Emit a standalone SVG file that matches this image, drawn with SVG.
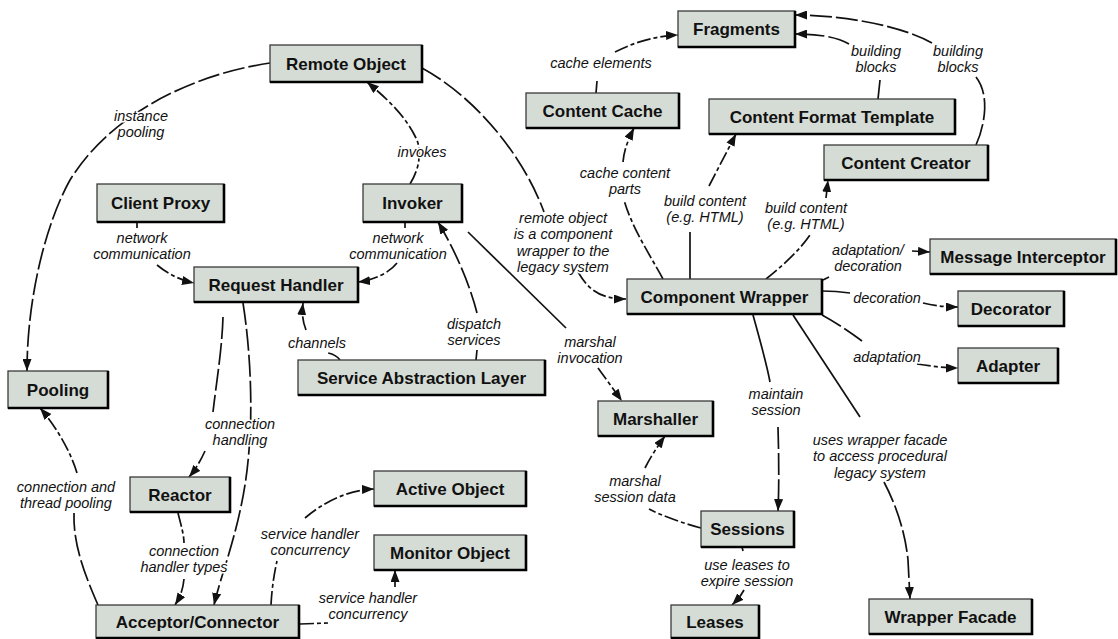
<svg xmlns="http://www.w3.org/2000/svg" width="1118" height="639" viewBox="0 0 1118 639">
  <style>
    .box { fill: #d5dcd5; stroke: #3a3a3a; stroke-width: 1.3; }
    .shade { fill: none; stroke: #000; stroke-width: 2.6; }
    .t { font-family: "Liberation Sans", Arial, sans-serif; font-weight: bold; font-size: 17px; text-anchor: middle; fill: #111; }
    .e { font-family: "Liberation Sans", Arial, sans-serif; font-style: italic; font-size: 14.5px; text-anchor: middle; fill: #111;
         stroke: #fff; stroke-width: 3; stroke-linejoin: round; paint-order: stroke fill; }
    .c { fill: none; stroke: #111; stroke-width: 1.7; }
    .d { stroke-dasharray: 14 3 4 3; }
    .ld { stroke-dasharray: 22 4; }
    .a { marker-end: url(#arrow); }
  </style>
  <defs>
    <marker id="arrow" markerUnits="userSpaceOnUse" markerWidth="12" markerHeight="9" refX="12" refY="4.5" orient="auto">
      <path d="M0,0 L12,4.5 L0,9 Z" fill="#111"/>
    </marker>
  </defs>
  <rect width="1118" height="639" fill="#fff"/>

  <!-- connectors -->
  <g id="connectors">
    <!-- instance pooling -->
    <path class="c ld a" d="M270,63 C190,75 110,115 70,180 C45,225 27,300 27,371"/>
    <!-- invokes -->
    <path class="c d a" d="M410,184 C420,168 422,150 416,138 C405,115 385,97 367,82"/>
    <!-- remote object is a component wrapper -->
    <path class="c ld" d="M422,68 C480,100 525,160 544,212"/>
    <path class="c d a" d="M578,272 C587,287 597,299 626,299"/>
    <!-- network communication (client proxy) -->
    <path class="c" d="M137,222 L137,228"/>
    <path class="c d a" d="M157,265 C168,274 180,280 194,283"/>
    <!-- network communication (invoker) -->
    <path class="c" d="M405,222 L405,228"/>
    <path class="c d a" d="M397,263 C390,272 375,280 358,282"/>
    <!-- channels -->
    <path class="c d" d="M340,360 C337,356 333,354 328,353"/>
    <path class="c d a" d="M306,330 C302,320 302,312 303,303"/>
    <!-- dispatch services -->
    <path class="c" d="M476,360 L477,350"/>
    <path class="c ld a" d="M477,313 C470,285 455,250 438,222"/>
    <!-- marshal invocation -->
    <path class="c" d="M468,232 L566,328"/>
    <path class="c d a" d="M598,368 L622,401"/>
    <!-- connection handling -->
    <path class="c ld" d="M223,317 C222,350 216,385 213,412"/>
    <path class="c d a" d="M205,451 C200,462 195,470 189,477"/>
    <!-- request handler to acceptor/connector -->
    <path class="c ld a" d="M243,303 C252,360 252,420 249,450 C244,520 222,570 214,605"/>
    <!-- connection handler types -->
    <path class="c d" d="M178,513 C181,525 184,535 184,543"/>
    <path class="c d a" d="M184,579 C183,590 180,597 175,605"/>
    <!-- connection and thread pooling -->
    <path class="c ld" d="M98,605 C85,575 73,545 74,513"/>
    <path class="c d a" d="M77,473 C70,450 55,425 40,408"/>
    <!-- service handler concurrency (active object) -->
    <path class="c d" d="M271,605 C272,585 275,570 277,561"/>
    <path class="c d a" d="M305,518 C320,505 345,490 374,489"/>
    <!-- service handler concurrency (monitor object) -->
    <path class="c d" d="M300,624 L328,623"/>
    <path class="c a" d="M395,587 L395,570"/>
    <!-- cache elements -->
    <path class="c" d="M596,93 L597,81"/>
    <path class="c d a" d="M615,52 C635,42 655,36 678,35"/>
    <!-- cache content parts -->
    <path class="c d" d="M663,279 C650,255 632,228 624,200"/>
    <path class="c d a" d="M623,162 C624,150 628,140 634,128"/>
    <!-- build content (content format template) -->
    <path class="c" d="M690,279 L690,232"/>
    <path class="c d a" d="M709,186 L736,134"/>
    <!-- build content (content creator) -->
    <path class="c d" d="M766,279 C780,268 800,250 810,235"/>
    <path class="c d a" d="M826,198 L828,180"/>
    <!-- building blocks (content format template) -->
    <path class="c" d="M878,99 L880,80"/>
    <path class="c ld a" d="M849,44 C835,36 815,34 795,34"/>
    <!-- building blocks (content creator) -->
    <path class="c ld" d="M976,145 C985,125 990,95 976,77"/>
    <path class="c ld a" d="M932,43 C900,25 840,15 795,15"/>
    <!-- adaptation/decoration -->
    <path class="c" d="M823,280 L829,277"/>
    <path class="c a" d="M912,251 L930,252"/>
    <!-- decoration -->
    <path class="c" d="M822,291 C835,291 843,292 850,293"/>
    <path class="c d a" d="M923,303 C935,306 945,307 958,307"/>
    <!-- adaptation -->
    <path class="c ld" d="M822,315 C835,322 850,332 862,341"/>
    <path class="c d a" d="M917,364 C930,366 945,368 958,368"/>
    <!-- maintain session -->
    <path class="c" d="M753,315 C760,340 767,365 770,382"/>
    <path class="c ld a" d="M778,427 C779,460 779,490 778,511"/>
    <!-- uses wrapper facade -->
    <path class="c" d="M793,315 L860,417"/>
    <path class="c ld a" d="M884,482 C895,503 905,530 908,560 L910,599"/>
    <!-- marshal session data -->
    <path class="c d" d="M701,528 C685,524 660,515 649,509"/>
    <path class="c d a" d="M645,468 C650,458 657,447 665,436"/>
    <!-- use leases to expire session -->
    <path class="c" d="M742,547 L743,551"/>
    <path class="c d a" d="M744,590 C741,596 737,600 732,605"/>
  </g>

  <!-- connector labels -->
  <g id="labels">
    <text class="e" x="141" y="121">instance<tspan x="141" dy="16.3">pooling</tspan></text>
    <text class="e" x="422" y="157">invokes</text>
    <text class="e" x="142" y="243">network<tspan x="142" dy="16.3">communication</tspan></text>
    <text class="e" x="398" y="243">network<tspan x="398" dy="16.3">communication</tspan></text>
    <text class="e" x="317" y="348">channels</text>
    <text class="e" x="474" y="329">dispatch<tspan x="474" dy="16.3">services</tspan></text>
    <text class="e" x="590" y="347">marshal<tspan x="590" dy="16.3">invocation</tspan></text>
    <text class="e" x="563" y="223">remote object<tspan x="563" dy="16.3">is a component</tspan><tspan x="563" dy="16.3">wrapper to the</tspan><tspan x="563" dy="16.3">legacy system</tspan></text>
    <text class="e" x="601" y="68">cache elements</text>
    <text class="e" x="625" y="178">cache content<tspan x="625" dy="16.3">parts</tspan></text>
    <text class="e" x="705" y="206">build content<tspan x="705" dy="16.3">(e.g. HTML)</tspan></text>
    <text class="e" x="806" y="213">build content<tspan x="806" dy="16.3">(e.g. HTML)</tspan></text>
    <text class="e" x="876" y="56">building<tspan x="876" dy="16.3">blocks</tspan></text>
    <text class="e" x="958" y="56">building<tspan x="958" dy="16.3">blocks</tspan></text>
    <text class="e" x="868" y="255">adaptation/<tspan x="868" dy="16.3">decoration</tspan></text>
    <text class="e" x="887" y="303">decoration</text>
    <text class="e" x="887" y="362">adaptation</text>
    <text class="e" x="776" y="399">maintain<tspan x="776" dy="16.3">session</tspan></text>
    <text class="e" x="880" y="445">uses wrapper facade<tspan x="880" dy="16.3">to access procedural</tspan><tspan x="880" dy="16.3">legacy system</tspan></text>
    <text class="e" x="635" y="486">marshal<tspan x="635" dy="16.3">session data</tspan></text>
    <text class="e" x="747" y="570">use leases to<tspan x="747" dy="16.3">expire session</tspan></text>
    <text class="e" x="240" y="429">connection<tspan x="240" dy="16.3">handling</tspan></text>
    <text class="e" x="66" y="492">connection and<tspan x="66" dy="16.3">thread pooling</tspan></text>
    <text class="e" x="184" y="556">connection<tspan x="184" dy="16.3">handler types</tspan></text>
    <text class="e" x="310" y="539">service handler<tspan x="310" dy="16.3">concurrency</tspan></text>
    <text class="e" x="368" y="603">service handler<tspan x="368" dy="16.3">concurrency</tspan></text>
  </g>

  <!-- nodes -->
  <g id="fragments"><rect class="box" x="678" y="11" width="117" height="36"/><path class="shade" d="M795,11 V47 H678"/><text class="t" x="736.5" y="35">Fragments</text></g>
  <g id="remote-object"><rect class="box" x="270" y="45" width="152" height="37"/><path class="shade" d="M422,45 V82 H270"/><text class="t" x="346" y="69.5">Remote Object</text></g>
  <g id="content-cache"><rect class="box" x="526" y="93" width="153" height="35"/><path class="shade" d="M679,93 V128 H526"/><text class="t" x="602.5" y="116.5">Content Cache</text></g>
  <g id="content-format-template"><rect class="box" x="709" y="99" width="246" height="35"/><path class="shade" d="M955,99 V134 H709"/><text class="t" x="832" y="122.5">Content Format Template</text></g>
  <g id="content-creator"><rect class="box" x="824" y="145" width="164" height="35"/><path class="shade" d="M988,145 V180 H824"/><text class="t" x="906" y="168.5">Content Creator</text></g>
  <g id="client-proxy"><rect class="box" x="97" y="184" width="127" height="38"/><path class="shade" d="M224,184 V222 H97"/><text class="t" x="160.5" y="209">Client Proxy</text></g>
  <g id="invoker"><rect class="box" x="363" y="184" width="99" height="38"/><path class="shade" d="M462,184 V222 H363"/><text class="t" x="412.5" y="209">Invoker</text></g>
  <g id="request-handler"><rect class="box" x="194" y="267" width="164" height="35"/><path class="shade" d="M358,267 V302 H194"/><text class="t" x="276" y="290.5">Request Handler</text></g>
  <g id="message-interceptor"><rect class="box" x="930" y="239" width="186" height="35"/><path class="shade" d="M1116,239 V274 H930"/><text class="t" x="1023" y="262.5">Message Interceptor</text></g>
  <g id="component-wrapper"><rect class="box" x="627" y="279" width="195" height="35"/><path class="shade" d="M822,279 V314 H627"/><text class="t" x="724.5" y="302.5">Component Wrapper</text></g>
  <g id="decorator"><rect class="box" x="958" y="291" width="106" height="35"/><path class="shade" d="M1064,291 V326 H958"/><text class="t" x="1011" y="314.5">Decorator</text></g>
  <g id="adapter"><rect class="box" x="958" y="348" width="100" height="35"/><path class="shade" d="M1058,348 V383 H958"/><text class="t" x="1008" y="371.5">Adapter</text></g>
  <g id="service-abstraction-layer"><rect class="box" x="298" y="360" width="247" height="35"/><path class="shade" d="M545,360 V395 H298"/><text class="t" x="421.5" y="383.5">Service Abstraction Layer</text></g>
  <g id="pooling"><rect class="box" x="8" y="371" width="100" height="37"/><path class="shade" d="M108,371 V408 H8"/><text class="t" x="58" y="395.5">Pooling</text></g>
  <g id="marshaller"><rect class="box" x="598" y="401" width="115" height="35"/><path class="shade" d="M713,401 V436 H598"/><text class="t" x="655.5" y="424.5">Marshaller</text></g>
  <g id="reactor"><rect class="box" x="130" y="477" width="100" height="35"/><path class="shade" d="M230,477 V512 H130"/><text class="t" x="180" y="500.5">Reactor</text></g>
  <g id="active-object"><rect class="box" x="374" y="471" width="152" height="35"/><path class="shade" d="M526,471 V506 H374"/><text class="t" x="450" y="494.5">Active Object</text></g>
  <g id="monitor-object"><rect class="box" x="374" y="535" width="152" height="35"/><path class="shade" d="M526,535 V570 H374"/><text class="t" x="450" y="558.5">Monitor Object</text></g>
  <g id="sessions"><rect class="box" x="701" y="511" width="93" height="36"/><path class="shade" d="M794,511 V547 H701"/><text class="t" x="747.5" y="535">Sessions</text></g>
  <g id="acceptor-connector"><rect class="box" x="96" y="605" width="203" height="33"/><path class="shade" d="M299,605 V638 H96"/><text class="t" x="197.5" y="627.5">Acceptor/Connector</text></g>
  <g id="leases"><rect class="box" x="671" y="605" width="88" height="33"/><path class="shade" d="M759,605 V638 H671"/><text class="t" x="715" y="627.5">Leases</text></g>
  <g id="wrapper-facade"><rect class="box" x="869" y="599" width="163" height="35"/><path class="shade" d="M1032,599 V634 H869"/><text class="t" x="950.5" y="622.5">Wrapper Facade</text></g>
</svg>
